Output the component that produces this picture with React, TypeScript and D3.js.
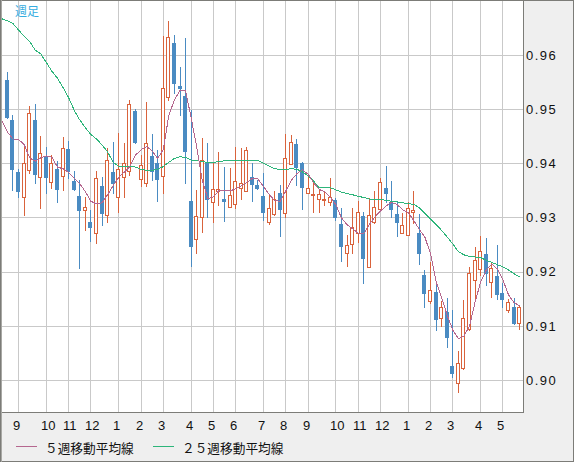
import React, { useEffect } from 'react';
import * as d3 from 'd3';

// ---- data (weekly candles, index 0..92) ----
const openVals = [
  0.9554, 0.9480, 0.9384, 0.9337, 0.9388, 0.9480, 0.9374, 0.9412, 0.9365, 0.9389,
  0.9377, 0.9426, 0.9368, 0.9340, 0.9313, 0.9292, 0.9271, 0.9358, 0.9304, 0.9384,
  0.9338, 0.9375, 0.9385, 0.9497, 0.9371, 0.9363, 0.9414, 0.9400, 0.9377, 0.9522,
  0.9623, 0.9543, 0.9524, 0.9330, 0.9260, 0.9301, 0.9400, 0.9328, 0.9348, 0.9334,
  0.9320, 0.9325, 0.9354, 0.9349, 0.9374, 0.9360, 0.9340, 0.9292, 0.9306, 0.9346,
  0.9308, 0.9398, 0.9436, 0.9400, 0.9345, 0.9342, 0.9335, 0.9334, 0.9329, 0.9332,
  0.9288, 0.9234, 0.9251, 0.9272, 0.9303, 0.9209, 0.9292, 0.9315, 0.9355, 0.9329,
  0.9306, 0.9271, 0.9268, 0.9310, 0.9271, 0.9194, 0.9146, 0.9162, 0.9114, 0.9126,
  0.9026, 0.8994, 0.9022, 0.9094, 0.9185, 0.9204, 0.9233, 0.9180, 0.9192, 0.9160,
  0.9129, 0.9134, 0.9105,
];
const highVals = [
  0.9569, 0.9489, 0.9390, 0.9434, 0.9505, 0.9510, 0.9450, 0.9430, 0.9416, 0.9405,
  0.9448, 0.9441, 0.9385, 0.9369, 0.9338, 0.9314, 0.9386, 0.9375, 0.9428, 0.9440,
  0.9456, 0.9438, 0.9517, 0.9500, 0.9415, 0.9514, 0.9455, 0.9425, 0.9635, 0.9663,
  0.9637, 0.9578, 0.9632, 0.9498, 0.9351, 0.9446, 0.9437, 0.9400, 0.9421, 0.9394,
  0.9392, 0.9430, 0.9428, 0.9430, 0.9400, 0.9369, 0.9382, 0.9342, 0.9348, 0.9360,
  0.9455, 0.9452, 0.9445, 0.9403, 0.9375, 0.9369, 0.9351, 0.9349, 0.9372, 0.9336,
  0.9317, 0.9268, 0.9317, 0.9331, 0.9311, 0.9336, 0.9348, 0.9372, 0.9395, 0.9368,
  0.9329, 0.9308, 0.9329, 0.9349, 0.9306, 0.9203, 0.9218, 0.9180, 0.9145, 0.9151,
  0.9129, 0.9054, 0.9148, 0.9209, 0.9246, 0.9266, 0.9263, 0.9218, 0.9249, 0.9179,
  0.9149, 0.9152, 0.9137,
];
const lowVals = [
  0.9483, 0.9351, 0.9337, 0.9305, 0.9382, 0.9363, 0.9318, 0.9345, 0.9354, 0.9329,
  0.9351, 0.9373, 0.9351, 0.9206, 0.9277, 0.9257, 0.9253, 0.9286, 0.9292, 0.9345,
  0.9311, 0.9338, 0.9378, 0.9438, 0.9358, 0.9358, 0.9369, 0.9331, 0.9346, 0.9517,
  0.9530, 0.9489, 0.9363, 0.9210, 0.9234, 0.9274, 0.9301, 0.9292, 0.9323, 0.9294,
  0.9319, 0.9317, 0.9335, 0.9349, 0.9331, 0.9353, 0.9295, 0.9288, 0.9304, 0.9265,
  0.9300, 0.9398, 0.9360, 0.9316, 0.9345, 0.9311, 0.9311, 0.9323, 0.9323, 0.9295,
  0.9220, 0.9210, 0.9234, 0.9255, 0.9179, 0.9208, 0.9289, 0.9312, 0.9329, 0.9300,
  0.9266, 0.9271, 0.9268, 0.9290, 0.9215, 0.9135, 0.9143, 0.9092, 0.9100, 0.9060,
  0.9006, 0.8978, 0.9021, 0.9092, 0.9151, 0.9194, 0.9175, 0.9153, 0.9149, 0.9135,
  0.9126, 0.9103, 0.9094,
];
const closeVals = [
  0.9485, 0.9389, 0.9348, 0.9400, 0.9492, 0.9380, 0.9419, 0.9375, 0.9400, 0.9353,
  0.9428, 0.9385, 0.9353, 0.9314, 0.9319, 0.9283, 0.9372, 0.9309, 0.9406, 0.9364,
  0.9389, 0.9400, 0.9509, 0.9440, 0.9397, 0.9438, 0.9386, 0.9371, 0.9540, 0.9633,
  0.9549, 0.9540, 0.9423, 0.9248, 0.9303, 0.9406, 0.9335, 0.9352, 0.9352, 0.9330,
  0.9342, 0.9368, 0.9363, 0.9425, 0.9361, 0.9355, 0.9311, 0.9317, 0.9335, 0.9316,
  0.9409, 0.9440, 0.9394, 0.9357, 0.9354, 0.9344, 0.9343, 0.9335, 0.9337, 0.9300,
  0.9248, 0.9249, 0.9283, 0.9311, 0.9226, 0.9305, 0.9319, 0.9366, 0.9346, 0.9315,
  0.9292, 0.9287, 0.9317, 0.9314, 0.9235, 0.9161, 0.9166, 0.9113, 0.9134, 0.9080,
  0.9013, 0.9031, 0.9114, 0.9198, 0.9222, 0.9239, 0.9197, 0.9207, 0.9159, 0.9149,
  0.9144, 0.9106, 0.9134,
];

// moving averages, index -1..92 (first value sits one week before the first candle)
const ma5Vals = [
  0.9479,
  0.9458, 0.9445, 0.9444, 0.9435, 0.9410, 0.9404, 0.9410, 0.9414, 0.9411, 0.9393,
  0.9390, 0.9383, 0.9373, 0.9362, 0.9348, 0.9330, 0.9325, 0.9327, 0.9342, 0.9359,
  0.9374, 0.9384, 0.9394, 0.9415, 0.9425, 0.9431, 0.9423, 0.9409, 0.9426, 0.9489,
  0.9517, 0.9535, 0.9534, 0.9484, 0.9430, 0.9369, 0.9335, 0.9338, 0.9350, 0.9349,
  0.9349, 0.9353, 0.9358, 0.9365, 0.9372, 0.9371, 0.9357, 0.9343, 0.9331, 0.9330,
  0.9349, 0.9369, 0.9381, 0.9388, 0.9380, 0.9364, 0.9352, 0.9347, 0.9337, 0.9324,
  0.9299, 0.9287, 0.9279, 0.9271, 0.9270, 0.9287, 0.9301, 0.9312, 0.9321, 0.9328,
  0.9324, 0.9314, 0.9309, 0.9294, 0.9278, 0.9263, 0.9233, 0.9181, 0.9152, 0.9119,
  0.9092, 0.9076, 0.9081, 0.9100, 0.9144, 0.9181, 0.9203, 0.9214, 0.9205, 0.9185,
  0.9157, 0.9143, 0.9137,
];
const ma25Vals = [
  0.9667,
  0.9663, 0.9658, 0.9646, 0.9635, 0.9625, 0.9609, 0.9602, 0.9586, 0.9570, 0.9557,
  0.9540, 0.9521, 0.9498, 0.9480, 0.9466, 0.9453, 0.9445, 0.9434, 0.9421, 0.9402,
  0.9394, 0.9394, 0.9395, 0.9393, 0.9389, 0.9387, 0.9387, 0.9389, 0.9394, 0.9402,
  0.9409, 0.9412, 0.9411, 0.9406, 0.9405, 0.9403, 0.9402, 0.9402, 0.9403, 0.9405,
  0.9406, 0.9406, 0.9406, 0.9406, 0.9406, 0.9405, 0.9400, 0.9395, 0.9390, 0.9389,
  0.9389, 0.9390, 0.9389, 0.9384, 0.9377, 0.9367, 0.9355, 0.9355, 0.9355, 0.9351,
  0.9347, 0.9344, 0.9342, 0.9339, 0.9337, 0.9334, 0.9334, 0.9333, 0.9332, 0.9330,
  0.9329, 0.9327, 0.9326, 0.9324, 0.9318, 0.9307, 0.9297, 0.9287, 0.9276, 0.9264,
  0.9251, 0.9237, 0.9231, 0.9228, 0.9227, 0.9226, 0.9221, 0.9217, 0.9213, 0.9209,
  0.9203, 0.9196, 0.9190,
];

const monthLabels = ['9', '10', '11', '12', '1', '2', '3', '4', '5', '6', '7', '8', '9', '10', '11', '12', '1', '2', '3', '4', '5'];
const monthIndex = [2, 7, 11, 15, 20, 24, 28, 33, 37, 41, 46, 50, 54, 59, 63, 67, 72, 76, 80, 85, 89];
const priceTicks = [0.90, 0.91, 0.92, 0.93, 0.94, 0.95, 0.96];
const titleText = '週足';
const legendItems = [
  { label: '５週移動平均線', color: '#b5678f' },
  { label: '２５週移動平均線', color: '#2db57a' },
];

const W = 574;
const H = 462;
const PL = 1, PR = 523, PT = 1, PB = 412;
const UP = '#d9633c';
const DOWN = '#4a8bc2';
const GRID = '#c9c9c9';
const FRAME = '#7c7c78';

export default function App() {
  useEffect(() => {
    document.body.style.margin = '0';
  }, []);

  const n = closeVals.length;
  const x = d3.scaleLinear().domain([0, 92]).range([7.4, 7.4 + 92 * 5.568]);
  const y = d3.scaleLinear().domain([0.89409, 0.96997]).range([PB, PT]);
  const px = (i: number) => Math.floor(x(i));

  const lineGen = d3
    .line<number>()
    .x((_, k) => x(k - 1))
    .y((d) => y(d));

  const candles = d3.range(n).map((i) => {
    const o = openVals[i], c = closeVals[i], h = highVals[i], l = lowVals[i];
    const up = c >= o;
    const col = up ? UP : DOWN;
    const p = px(i);
    const yTop = Math.round(y(Math.max(o, c)));
    const yBot = Math.round(y(Math.min(o, c)));
    const yH = Math.round(y(h));
    const yL = Math.round(y(l));
    return (
      <g key={i}>
        <line x1={p + 0.5} x2={p + 0.5} y1={yH} y2={yL + 1} stroke={col} strokeWidth={1} />
        {up ? (
          <rect x={p - 1.5} y={yTop + 0.5} width={3} height={Math.max(yBot - yTop, 1)} fill="#ffffff" stroke={col} strokeWidth={1} />
        ) : (
          <rect x={p - 2} y={yTop} width={4} height={Math.max(yBot - yTop + 1, 2)} fill={col} />
        )}
      </g>
    );
  });

  return (
    <svg width={W} height={H} style={{ display: 'block' }} shapeRendering="crispEdges">
      <defs>
        <clipPath id="plotClip">
          <rect x={PL} y={PT} width={PR - PL} height={PB - PT} />
        </clipPath>
      </defs>
      <rect x={0} y={0} width={W} height={H} fill="#efefef" />
      <rect x={PL} y={PT} width={PR - PL} height={PB - PT} fill="#ffffff" />
      {/* grid */}
      {priceTicks.map((t) => (
        <line key={'h' + t} x1={PL} x2={PR} y1={Math.round(y(t)) + 0.5} y2={Math.round(y(t)) + 0.5} stroke={GRID} strokeWidth={1} />
      ))}
      {monthIndex.map((mi, k) => (
        <line key={'v' + k} x1={px(mi) + 0.5} x2={px(mi) + 0.5} y1={PT} y2={PB} stroke={GRID} strokeWidth={1} />
      ))}
      <g clipPath="url(#plotClip)">
        {candles}
        <path d={lineGen(ma25Vals) || ''} fill="none" stroke="#2db57a" strokeWidth={1} />
        <path d={lineGen(ma5Vals) || ''} fill="none" stroke="#b5678f" strokeWidth={1} />
      </g>
      {/* frame */}
      <line x1={PR + 0.5} x2={PR + 0.5} y1={0} y2={PB + 1} stroke={FRAME} strokeWidth={1} />
      <line x1={0} x2={PR + 1} y1={PB + 0.5} y2={PB + 0.5} stroke={FRAME} strokeWidth={1} />
      <rect x={0.5} y={0.5} width={W - 1} height={H - 1} fill="none" stroke={FRAME} strokeWidth={1} />
      <line x1={1.5} x2={1.5} y1={0} y2={H} stroke="#a8a8a4" strokeWidth={1} />
      {/* price labels */}
      {priceTicks.map((t) => (
        <text key={'t' + t} x={526} y={y(t)} dy="0.36em" fontFamily="'Liberation Sans', Arial, sans-serif" fontSize={13} letterSpacing={1.5} fill="#111">
          {t.toFixed(2)}
        </text>
      ))}
      {/* month labels */}
      {monthIndex.map((mi, k) => (
        <text key={'m' + k} x={px(mi) - 5} y={429.5} fontFamily="'Liberation Sans', Arial, sans-serif" fontSize={13} fill="#111">
          {monthLabels[k]}
        </text>
      ))}
      {/* title */}
      <text x={15} y={16} fontFamily="'Noto Sans CJK JP', sans-serif" fontSize={12} fill="#35ace0">
        {titleText}
      </text>
      {/* legend */}
      {legendItems.map((it, k) => {
        const lx = k === 0 ? 16 : 153;
        return (
          <g key={'lg' + k}>
            <line x1={lx} x2={lx + 21} y1={446.5} y2={446.5} stroke={it.color} strokeWidth={1} />
            <text x={lx + 29} y={452.5} fontFamily="'Noto Sans CJK JP', sans-serif" fontSize={12.7} fill="#111">
              {it.label}
            </text>
          </g>
        );
      })}
    </svg>
  );
}
